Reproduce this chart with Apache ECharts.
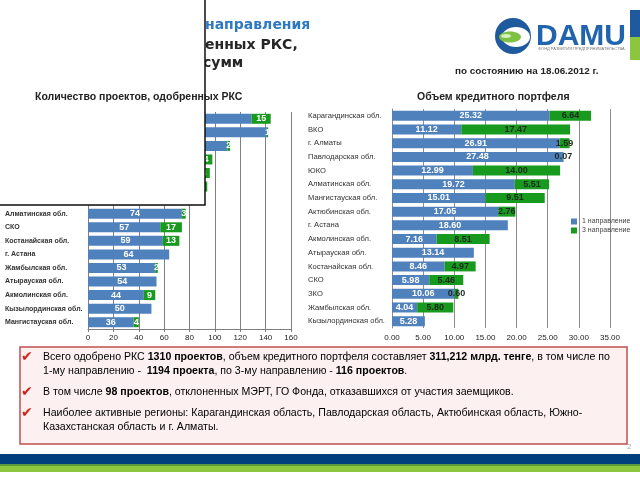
<!DOCTYPE html>
<html><head><meta charset="utf-8">
<script src="https://cdn.jsdelivr.net/npm/echarts@6/dist/echarts.min.js"></script>
<style>html,body{margin:0;padding:0;background:#fff}#c{width:640px;height:480px}</style>
</head><body><div id="c"></div>
<script>
// Left chart: number of approved projects
const leftCats = ['Карагандинская обл.','г. Алматы','Павлодарская обл.','ЮКО','Актюбинская обл.','ВКО','ЗКО',
  'Алматинская обл.','СКО','Костанайская обл.','г. Астана','Жамбылская обл.','Атырауская обл.','Акмолинская обл.','Кызылординская обл.','Мангистауская обл.'];
const leftDir1 = [129,141,110,84,83,86,70,74,57,59,64,53,54,44,50,36];
const leftDir3 = [15,1,2,14,13,8,15,3,17,13,0,2,0,9,0,4];
const leftTicks = [0,20,40,60,80,100,120,140,160];

// Right chart: credit portfolio volume
const rightCats = ['Карагандинская обл.','ВКО','г. Алматы','Павлодарская обл.','ЮКО','Алматинская обл.','Мангистауская обл.',
  'Актюбинская обл.','г. Астана','Акмолинская обл.','Атырауская обл.','Костанайская обл.','СКО','ЗКО','Жамбылская обл.','Кызылординская обл.'];
const rightDir1 = [25.32,11.12,26.91,27.48,12.99,19.72,15.01,17.05,18.60,7.16,13.14,8.46,5.98,10.06,4.04,5.28];
const rightDir3 = [6.64,17.47,1.59,0.07,14.00,5.51,9.51,2.76,0,8.51,0,4.97,5.46,0.60,5.80,0];
const rightTicks = [0,5,10,15,20,25,30,35];

const seriesNames = ['1 направление','3 направление'];

const BLUE = '#4f81bd', GREEN = '#179a1e';
const chart = echarts.init(document.getElementById('c'), null, {renderer:'canvas'});

function lbl(color, fixed){
  return {show:true, position:'inside', color:color, fontSize:9, fontWeight:'bold', fontFamily:'Liberation Sans',
    formatter: p => p.value ? (fixed ? Number(p.value).toFixed(2) : String(p.value)) : ''};
}

const font = 'Liberation Sans';
const bodyLines = [
  [['Всего одобрено РКС ','n'],['1310 проектов','b'],[', объем кредитного портфеля составляет ','n'],['311,212 млрд. тенге','b'],[', в том числе по','n']],
  [['1-му направлению -  ','n'],['1194 проекта','b'],[', по 3-му направлению - ','n'],['116 проектов','b'],['.','n']],
  [['В том числе ','n'],['98 проектов','b'],[', отклоненных МЭРТ, ГО Фонда, отказавшихся от участия заемщиков.','n']],
  [['Наиболее активные регионы: Карагандинская область, Павлодарская область, Актюбинская область, Южно-','n']],
  [['Казахстанская область и г. Алматы.','n']]
];
const bodyY = [357,371,392,413,427];
const FS = 10.6;
const bodyGraphics = bodyLines.map((segs,i)=>({
  type:'text', left:43, top:bodyY[i]-5, z:120,
  style:{text: segs.map(s=>'{'+s[1]+'|'+s[0]+'}').join(''),
    rich:{n:{fontSize:FS,fontFamily:font,color:'#444'}, b:{fontSize:FS,fontFamily:font,fontWeight:'bold',color:'#2a2a2a'}}}
}));
const checks = [357,392,413].map(y=>({type:'text', left:21, top:y-7, z:121,
  style:{text:'✔', fontSize:14, fill:'#d0201a', fontFamily:'DejaVu Sans'}}));

chart.setOption({
  animation:false,
  textStyle:{fontFamily:font},
  legend:{data:seriesNames, orient:'vertical', left:571, top:218, itemWidth:6, itemHeight:6, itemGap:2, icon:'rect',
    textStyle:{fontSize:7, color:'#444', fontFamily:font}, padding:0},
  grid:[{left:88, top:112, width:203, height:217},{left:392, top:109, width:218, height:219}],
  xAxis:[
    {type:'value', gridIndex:0, min:leftTicks[0], max:leftTicks[leftTicks.length-1], interval:20,
      axisLine:{show:true, lineStyle:{color:'#7f7f7f'}}, axisTick:{show:true, length:3, lineStyle:{color:'#7f7f7f'}},
      axisLabel:{fontSize:8, color:'#222', margin:5}, splitLine:{show:true, lineStyle:{color:'#7f7f7f'}}},
    {type:'value', gridIndex:1, min:rightTicks[0], max:rightTicks[rightTicks.length-1], interval:5,
      axisLine:{show:false}, axisTick:{show:false},
      axisLabel:{fontSize:8, color:'#222', margin:6, formatter:v=>v.toFixed(2)}, splitLine:{show:true, lineStyle:{color:'#8c8c8c'}}}
  ],
  yAxis:[
    {type:'category', gridIndex:0, inverse:true, data:leftCats, axisTick:{show:false},
      axisLine:{show:true, lineStyle:{color:'#7f7f7f'}},
      axisLabel:{align:'left', margin:83, fontSize:7, fontWeight:'bold', color:'#333'}},
    {type:'category', gridIndex:1, inverse:true, data:rightCats, axisTick:{show:false},
      axisLine:{show:true, lineStyle:{color:'#8c8c8c'}},
      axisLabel:{align:'left', margin:84, fontSize:7.6, color:'#333'}}
  ],
  series:[
    {name:seriesNames[0], type:'bar', stack:'L', xAxisIndex:0, yAxisIndex:0, barWidth:10, data:leftDir1,
      itemStyle:{color:BLUE}, label:lbl('#fff',false)},
    {name:seriesNames[1], type:'bar', stack:'L', xAxisIndex:0, yAxisIndex:0, barWidth:10, data:leftDir3,
      itemStyle:{color:GREEN}, label:lbl('#fff',false)},
    {name:seriesNames[0], type:'bar', stack:'R', xAxisIndex:1, yAxisIndex:1, barWidth:10, data:rightDir1,
      itemStyle:{color:BLUE}, label:lbl('#fff',true)},
    {name:seriesNames[1], type:'bar', stack:'R', xAxisIndex:1, yAxisIndex:1, barWidth:10, data:rightDir3,
      itemStyle:{color:GREEN}, label:lbl('#1e2a1e',true)}
  ],
  graphic:[
    // title fragments (partially hidden by the white box)
    {type:'text', left:205, top:18, z:50, style:{text:'направления', fontSize:14, fontWeight:'bold', fill:'#2e79c0', fontFamily:'DejaVu Sans'}},
    {type:'text', left:205, top:38, z:50, style:{text:'енных РКС,', fontSize:14, fontWeight:'bold', fill:'#262626', fontFamily:'DejaVu Sans'}},
    {type:'text', left:203, top:56, z:50, style:{text:'сумм', fontSize:14, fontWeight:'bold', fill:'#262626', fontFamily:'DejaVu Sans'}},
    // white overlay box
    {type:'rect', z:100, shape:{x:-2, y:-2, width:207, height:207}, style:{fill:'#fff', stroke:'#111', lineWidth:1.5}},
    {type:'text', left:35, top:92, z:110, style:{text:'Количество проектов, одобренных РКС', fontSize:10.5, fontWeight:'bold', fill:'#222', fontFamily:font}},
    {type:'text', left:417, top:92, z:110, style:{text:'Объем кредитного портфеля', fontSize:10.5, fontWeight:'bold', fill:'#222', fontFamily:font}},
    {type:'text', left:455, top:66, z:110, style:{text:'по состоянию на 18.06.2012 г.', fontSize:9.9, fontWeight:'bold', fill:'#222', fontFamily:font}},
    // logo
    {type:'circle', z:110, shape:{cx:513, cy:36, r:18}, style:{fill:'#1f5a9e'}},
    {type:'ellipse', z:111, shape:{cx:516, cy:37, rx:14, ry:10}, style:{fill:'#fff'}},
    {type:'ellipse', z:112, shape:{cx:510, cy:37, rx:11, ry:5.5}, style:{fill:'#7dc242'}},
    {type:'ellipse', z:113, shape:{cx:506, cy:36, rx:5, ry:2}, style:{fill:'#d9f0c0'}},
    {type:'text', left:536, top:22, z:110, style:{text:'DAMU', fontSize:30, fontWeight:'bold', fill:'#1f64ad', fontFamily:font}},
    {type:'text', left:538, top:47, z:110, style:{text:'ФОНД РАЗВИТИЯ ПРЕДПРИНИМАТЕЛЬСТВА', fontSize:4, fill:'#777', fontFamily:font}},
    {type:'rect', z:110, shape:{x:630, y:10, width:10, height:27}, style:{fill:'#1f5a9e'}},
    {type:'rect', z:110, shape:{x:630, y:37, width:10, height:23}, style:{fill:'#8cc63e'}},
    // text box
    {type:'rect', z:115, shape:{x:20, y:347, width:607, height:97}, style:{fill:'#fcf0f0', stroke:'#c0504d', lineWidth:1.5}},
    ...checks,
    ...bodyGraphics,
    {type:'text', left:627, top:443, z:110, style:{text:'2', fontSize:8, fill:'#aaa', fontFamily:font}},
    // bottom bands
    {type:'rect', z:110, shape:{x:0, y:454, width:640, height:10}, style:{fill:'#003f7d'}},
    {type:'rect', z:110, shape:{x:0, y:464, width:640, height:2}, style:{fill:'#5a9a3a'}},
    {type:'rect', z:110, shape:{x:0, y:466, width:640, height:6}, style:{fill:'#8cc63e'}}
  ]
});
</script></body></html>
